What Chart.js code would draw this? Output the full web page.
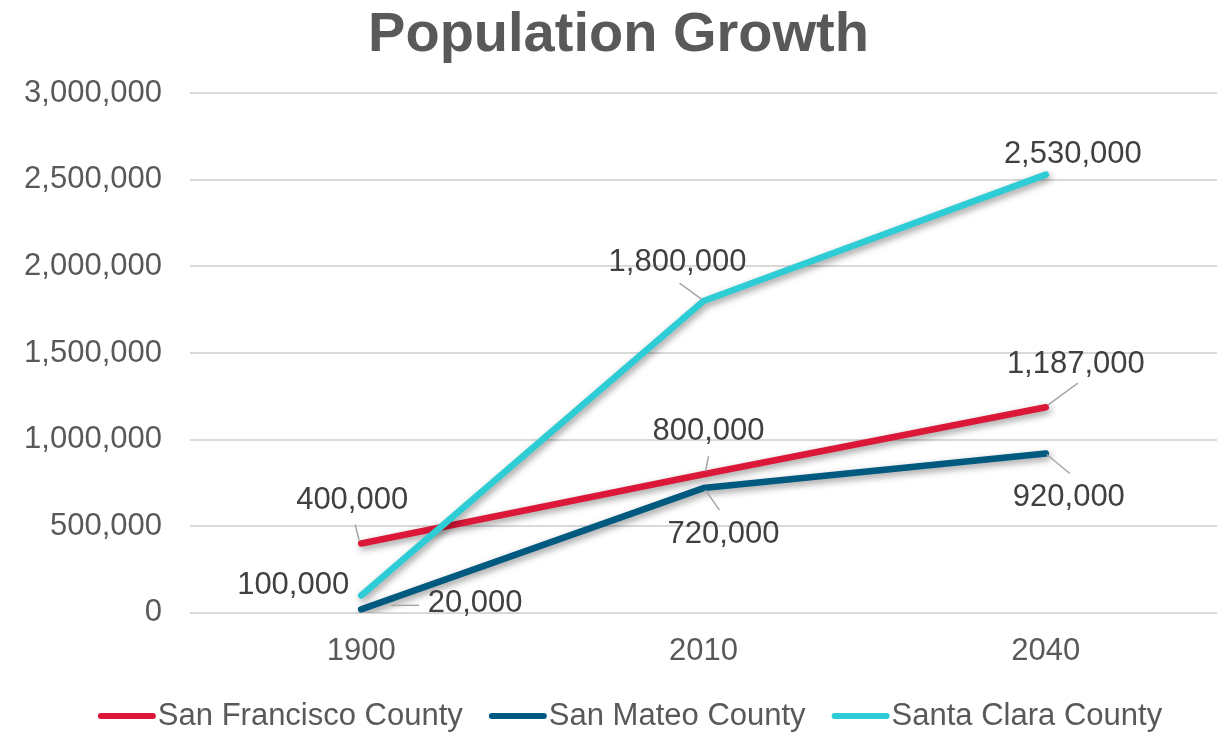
<!DOCTYPE html>
<html>
<head>
<meta charset="utf-8">
<script src="https://cdn.jsdelivr.net/npm/chart.js@4"></script>
<style>
  html, body { margin: 0; padding: 0; background: #fff; }
  #wrap { width: 1217px; height: 732px; }
</style>
</head>
<body>
<div id="wrap"><canvas id="popChart"></canvas></div>
<script>
// data
const years = ['1900', '2010', '2040'];
const seriesNames = ['San Francisco County', 'San Mateo County', 'Santa Clara County'];
const sanFrancisco = [400000, 800000, 1187000];
const sanMateo = [20000, 720000, 920000];
const santaClara = [100000, 1800000, 2530000];
const yMin = 0, yMax = 3000000, yStep = 500000;

const colors = ['#DC1838', '#005A80', '#2ECCD4'];
const FONT = 'Arial, "Liberation Sans", sans-serif';

// label placement: text centre offset from point, and leader line (relative to point)
const labelPlacement = [
  [{ dx: -9, dy: -43, lead: [-2, -3, -6, -19] }, { dx: 5, dy: -43, lead: [2, -3, 5, -18] }, { dx: 30, dy: -43, lead: [2, -2, 32, -24] }],
  [{ dx: 114, dy: -6, lead: [30, -4, 58, -4] }, { dx: 20, dy: 46, lead: [2, 2, 16, 22] }, { dx: 23, dy: 44, lead: [1, 1, 24, 20] }],
  [{ dx: -68, dy: -10, lead: null }, { dx: -26, dy: -39, lead: [-2, -2, -24, -18] }, { dx: 27, dy: -20, lead: null }]
];

const fmt = v => v.toLocaleString('en-US');

// soft shadow under the lines like the office original
const lineShadow = {
  id: 'lineShadow',
  beforeDatasetsDraw(chart) {
    const ctx = chart.ctx;
    ctx.save();
    ctx.shadowColor = 'rgba(0,0,0,0.4)';
    ctx.shadowBlur = 7;
    ctx.shadowOffsetX = 2;
    ctx.shadowOffsetY = 3;
  },
  afterDatasetsDraw(chart) {
    chart.ctx.restore();
  }
};

const valueLabels = {
  id: 'valueLabels',
  afterDatasetsDraw(chart) {
    const ctx = chart.ctx;
    ctx.save();
    chart.data.datasets.forEach((ds, di) => {
      const meta = chart.getDatasetMeta(di);
      meta.data.forEach((pt, i) => {
        const p = labelPlacement[di][i];
        if (p.lead) {
          ctx.strokeStyle = '#A6A6A6';
          ctx.lineWidth = 1.5;
          ctx.beginPath();
          ctx.moveTo(pt.x + p.lead[0], pt.y + p.lead[1]);
          ctx.lineTo(pt.x + p.lead[2], pt.y + p.lead[3]);
          ctx.stroke();
        }
        ctx.fillStyle = '#404040';
        ctx.font = '31px ' + FONT;
        ctx.textAlign = 'center';
        ctx.textBaseline = 'middle';
        ctx.fillText(fmt(ds.data[i]), pt.x + p.dx, pt.y + p.dy);
      });
    });
    ctx.restore();
  }
};

// legend drawn by hand so the line swatch sits close to its text
const lineLegend = {
  id: 'lineLegend',
  afterDraw(chart) {
    const ctx = chart.ctx;
    const swatch = 58, gap = 2, itemGap = 26, cy = 716, centre = 630;
    ctx.save();
    ctx.font = '31px ' + FONT;
    const items = chart.data.datasets.map(ds => ({ text: ds.label, color: ds.borderColor, w: ctx.measureText(ds.label).width }));
    const total = items.reduce((s, it) => s + swatch + gap + it.w, 0) + itemGap * (items.length - 1);
    let x = centre - total / 2;
    items.forEach(it => {
      ctx.strokeStyle = it.color;
      ctx.lineWidth = 6;
      ctx.lineCap = 'round';
      ctx.beginPath();
      ctx.moveTo(x + 3, cy);
      ctx.lineTo(x + swatch - 3, cy);
      ctx.stroke();
      ctx.fillStyle = '#595959';
      ctx.textAlign = 'left';
      ctx.textBaseline = 'middle';
      ctx.fillText(it.text, x + swatch + gap, cy);
      x += swatch + gap + it.w + itemGap;
    });
    ctx.restore();
  }
};

const seriesData = [sanFrancisco, sanMateo, santaClara];

new Chart(document.getElementById('popChart'), {
  type: 'line',
  data: {
    labels: years,
    datasets: seriesData.map((d, i) => ({
      label: seriesNames[i],
      data: d,
      borderColor: colors[i],
      backgroundColor: colors[i],
      borderWidth: 6.5,
      borderCapStyle: 'round',
      borderJoinStyle: 'round',
      pointRadius: 0,
      tension: 0,
      order: 2 - i
    }))
  },
  options: {
    responsive: true,
    maintainAspectRatio: false,
    animation: false,
    layout: { padding: { left: 20, right: 0, top: 0, bottom: 42 } },
    plugins: {
      legend: { display: false },
      tooltip: { enabled: false },
      title: {
        display: true,
        text: 'Population Growth',
        color: '#595959',
        font: { family: FONT, size: 56, weight: 'bold' },
        padding: { top: 2, bottom: 24 }
      }
    },
    scales: {
      x: {
        offset: true,
        grid: { display: false, drawTicks: false },
        border: { display: false },
        ticks: { color: '#595959', font: { family: FONT, size: 31 }, padding: 20 }
      },
      y: {
        min: yMin,
        max: yMax,
        afterFit: scale => { scale.width = 170; },
        grid: { color: '#D9D9D9', lineWidth: 2, drawTicks: false },
        border: { display: false },
        ticks: {
          stepSize: yStep,
          color: '#595959',
          font: { family: FONT, size: 31 },
          padding: 28,
          callback: v => fmt(v)
        }
      }
    }
  },
  plugins: [lineShadow, valueLabels, lineLegend]
});
</script>
</body>
</html>
